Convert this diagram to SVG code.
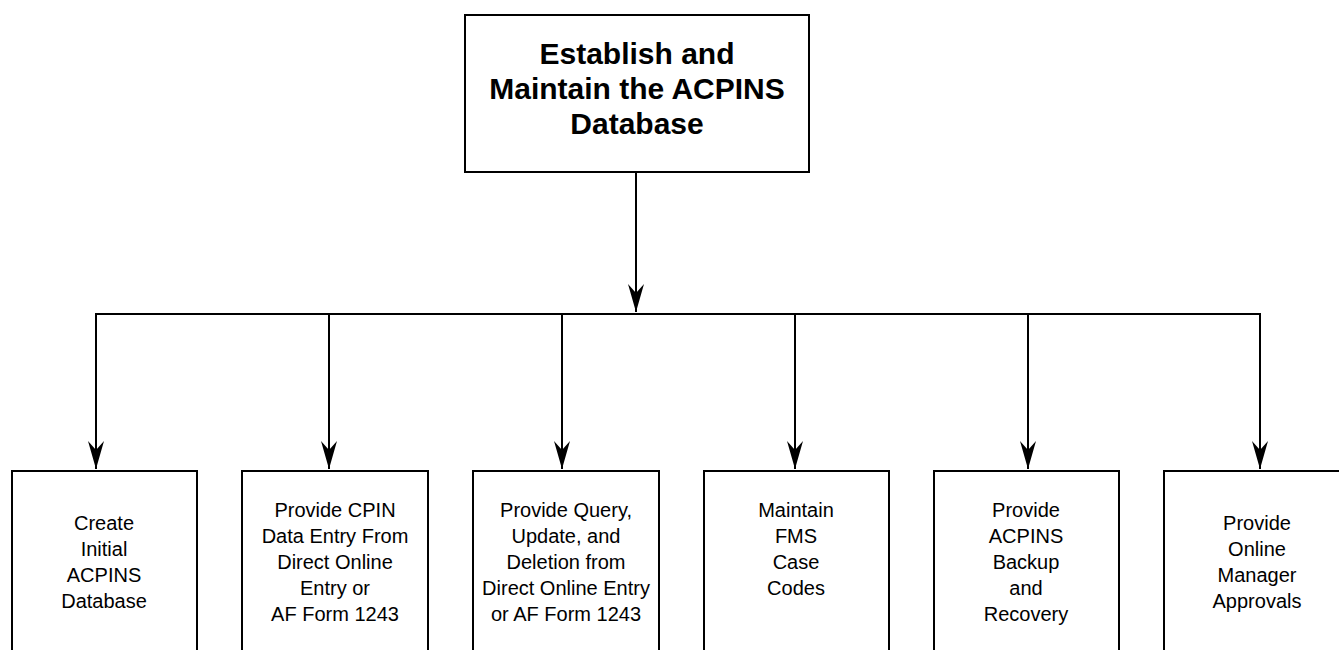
<svg xmlns="http://www.w3.org/2000/svg" width="1339" height="650" viewBox="0 0 1339 650">
<style>
  .box { fill: #fff; stroke: #000; stroke-width: 2; }
  .conn { fill: none; stroke: #000; stroke-width: 2; }
  .t { font-family: "Liberation Sans", Arial, sans-serif; font-size: 20px; text-anchor: middle; fill: #000; }
  .title { font-family: "Liberation Sans", Arial, sans-serif; font-size: 30px; font-weight: bold; text-anchor: middle; fill: #000; }
</style>
<defs>
  <marker id="arr" markerUnits="userSpaceOnUse" markerWidth="30" markerHeight="18" viewBox="0 0 30 18" refX="28" refY="9" orient="auto">
    <path d="M28,9 L0,1 L9,9 L0,17 Z" fill="#000"/>
  </marker>
</defs>
<g id="connectors">
  <path class="conn" d="M636,172 V312" marker-end="url(#arr)"/>
  <path class="conn" d="M96,314 H1260"/>
  <path class="conn" d="M96,313 V469" marker-end="url(#arr)"/>
  <path class="conn" d="M329,314 V469" marker-end="url(#arr)"/>
  <path class="conn" d="M562,314 V469" marker-end="url(#arr)"/>
  <path class="conn" d="M795,314 V469" marker-end="url(#arr)"/>
  <path class="conn" d="M1028,314 V469" marker-end="url(#arr)"/>
  <path class="conn" d="M1260,313 V469" marker-end="url(#arr)"/>
</g>
<g id="root">
  <rect class="box" x="465" y="15" width="344" height="157"/>
  <text class="title" x="637" y="64">Establish and</text>
  <text class="title" x="637" y="99">Maintain the ACPINS</text>
  <text class="title" x="637" y="134">Database</text>
</g>
<g id="n1">
  <rect class="box" x="12" y="471" width="185" height="200"/>
  <text class="t" x="104" y="530">Create</text>
  <text class="t" x="104" y="556">Initial</text>
  <text class="t" x="104" y="582">ACPINS</text>
  <text class="t" x="104" y="608">Database</text>
</g>
<g id="n2">
  <rect class="box" x="242" y="471" width="186" height="200"/>
  <text class="t" x="335" y="517">Provide CPIN</text>
  <text class="t" x="335" y="543">Data Entry From</text>
  <text class="t" x="335" y="569">Direct Online</text>
  <text class="t" x="335" y="595">Entry or</text>
  <text class="t" x="335" y="621">AF Form 1243</text>
</g>
<g id="n3">
  <rect class="box" x="473" y="471" width="186" height="200"/>
  <text class="t" x="566" y="517">Provide Query,</text>
  <text class="t" x="566" y="543">Update, and</text>
  <text class="t" x="566" y="569">Deletion from</text>
  <text class="t" x="566" y="595">Direct Online Entry</text>
  <text class="t" x="566" y="621">or AF Form 1243</text>
</g>
<g id="n4">
  <rect class="box" x="704" y="471" width="185" height="200"/>
  <text class="t" x="796" y="517">Maintain</text>
  <text class="t" x="796" y="543">FMS</text>
  <text class="t" x="796" y="569">Case</text>
  <text class="t" x="796" y="595">Codes</text>
</g>
<g id="n5">
  <rect class="box" x="934" y="471" width="185" height="200"/>
  <text class="t" x="1026" y="517">Provide</text>
  <text class="t" x="1026" y="543">ACPINS</text>
  <text class="t" x="1026" y="569">Backup</text>
  <text class="t" x="1026" y="595">and</text>
  <text class="t" x="1026" y="621">Recovery</text>
</g>
<g id="n6">
  <rect class="box" x="1164" y="471" width="186" height="200"/>
  <text class="t" x="1257" y="530">Provide</text>
  <text class="t" x="1257" y="556">Online</text>
  <text class="t" x="1257" y="582">Manager</text>
  <text class="t" x="1257" y="608">Approvals</text>
</g>
</svg>
